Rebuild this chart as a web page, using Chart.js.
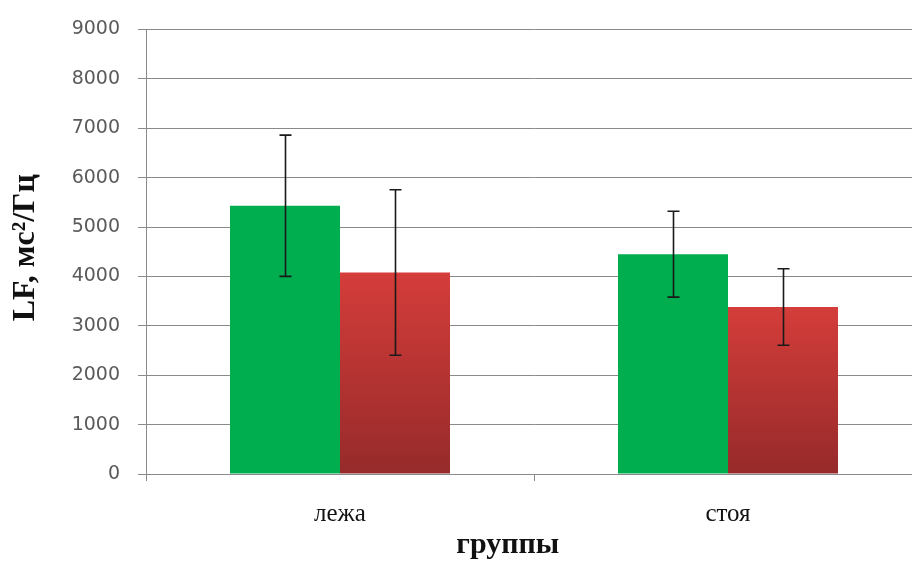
<!DOCTYPE html>
<html>
<head>
<meta charset="utf-8">
<script src="https://cdn.jsdelivr.net/npm/chart.js@4.4.1/dist/chart.umd.min.js"></script>
<style>
  html, body { margin: 0; padding: 0; background: #fff; overflow: hidden; }
  #wrap { position: absolute; left: 0; top: 0; }
</style>
</head>
<body>
<div id="wrap"><canvas id="lf" width="930" height="563"></canvas></div>
<script>
// данные с картинки
const groups = ['лежа', 'стоя'];
const greenMean = [5430, 4450];
const greenSd = [1430, 870];
const redMean = [4080, 3380];
const redSd = [1675, 775];
const yTicks = [0, 1000, 2000, 3000, 4000, 5000, 6000, 7000, 8000, 9000];

const errorBars = {
  id: 'errorBars',
  afterDatasetsDraw(chart) {
    const ctx = chart.ctx;
    const y = chart.scales.y;
    ctx.save();
    ctx.strokeStyle = '#1a1a1a';
    ctx.lineWidth = 1.6;
    chart.data.datasets.forEach((ds, i) => {
      const meta = chart.getDatasetMeta(i);
      meta.data.forEach((bar, j) => {
        const m = ds.data[j];
        const sd = ds.sd[j];
        const top = y.getPixelForValue(m + sd);
        const bot = y.getPixelForValue(m - sd);
        const x = Math.round(bar.x) + 0.5;
        ctx.beginPath();
        ctx.moveTo(x, top); ctx.lineTo(x, bot);
        ctx.moveTo(x - 6, top); ctx.lineTo(x + 6, top);
        ctx.moveTo(x - 6, bot); ctx.lineTo(x + 6, bot);
        ctx.stroke();
      });
    });
    ctx.restore();
  }
};

function redGradient(c) {
  const chart = c.chart;
  const area = chart.chartArea;
  if (!area || c.raw === undefined) return '#c43632';
  const top = chart.scales.y.getPixelForValue(c.raw);
  const g = chart.ctx.createLinearGradient(0, top, 0, area.bottom);
  g.addColorStop(0, '#d43d3a');
  g.addColorStop(1, '#962a2a');
  return g;
}

new Chart(document.getElementById('lf').getContext('2d'), {
  type: 'bar',
  data: {
    labels: groups,
    datasets: [{
      data: greenMean,
      sd: greenSd,
      backgroundColor: '#00ad4f',
      categoryPercentage: 0.567,
      barPercentage: 1.0
    }, {
      data: redMean,
      sd: redSd,
      backgroundColor: redGradient,
      categoryPercentage: 0.567,
      barPercentage: 1.0
    }]
  },
  options: {
    responsive: false,
    animation: false,
    devicePixelRatio: 1,
    layout: { padding: { left: 0, top: 27, right: 8, bottom: 0 } },
    plugins: { legend: { display: false }, tooltip: { enabled: false } },
    scales: {
      x: {
        offset: true,
        afterFit: s => { s.height = 89; },
        grid: { offset: true, drawOnChartArea: false, drawTicks: true, tickLength: 7, color: '#8a8a8a' },
        border: { color: '#8a8a8a', width: 1 },
        ticks: { color: '#111', padding: 18, font: { family: 'Liberation Serif', size: 25 } },
        title: {
          display: true,
          // пробелы сдвигают подпись влево, как в оригинале
          text: 'группы' + '\u00a0'.repeat(7),
          color: '#111',
          padding: { top: 0, bottom: 0 },
          font: { family: 'Liberation Serif', size: 30, weight: 'bold' }
        }
      },
      y: {
        min: 0, max: 9000,
        afterFit: s => { s.width = 146; },
        afterBuildTicks: s => { s.ticks = yTicks.map(v => ({ value: v })); },
        grid: { color: '#8a8a8a', tickLength: 8 },
        border: { color: '#8a8a8a', width: 1 },
        ticks: {
          color: '#5a5a5a', padding: 18,
          font: { family: 'DejaVu Sans', size: 19 },
          callback: v => String(v)
        },
        title: {
          display: true, text: '\u00a0LF, мс²/Гц', color: '#111',
          padding: { top: 7, bottom: 0 },
          font: { family: 'Liberation Serif', size: 32, weight: 'bold' }
        }
      }
    }
  },
  plugins: [errorBars]
});
</script>
</body>
</html>
